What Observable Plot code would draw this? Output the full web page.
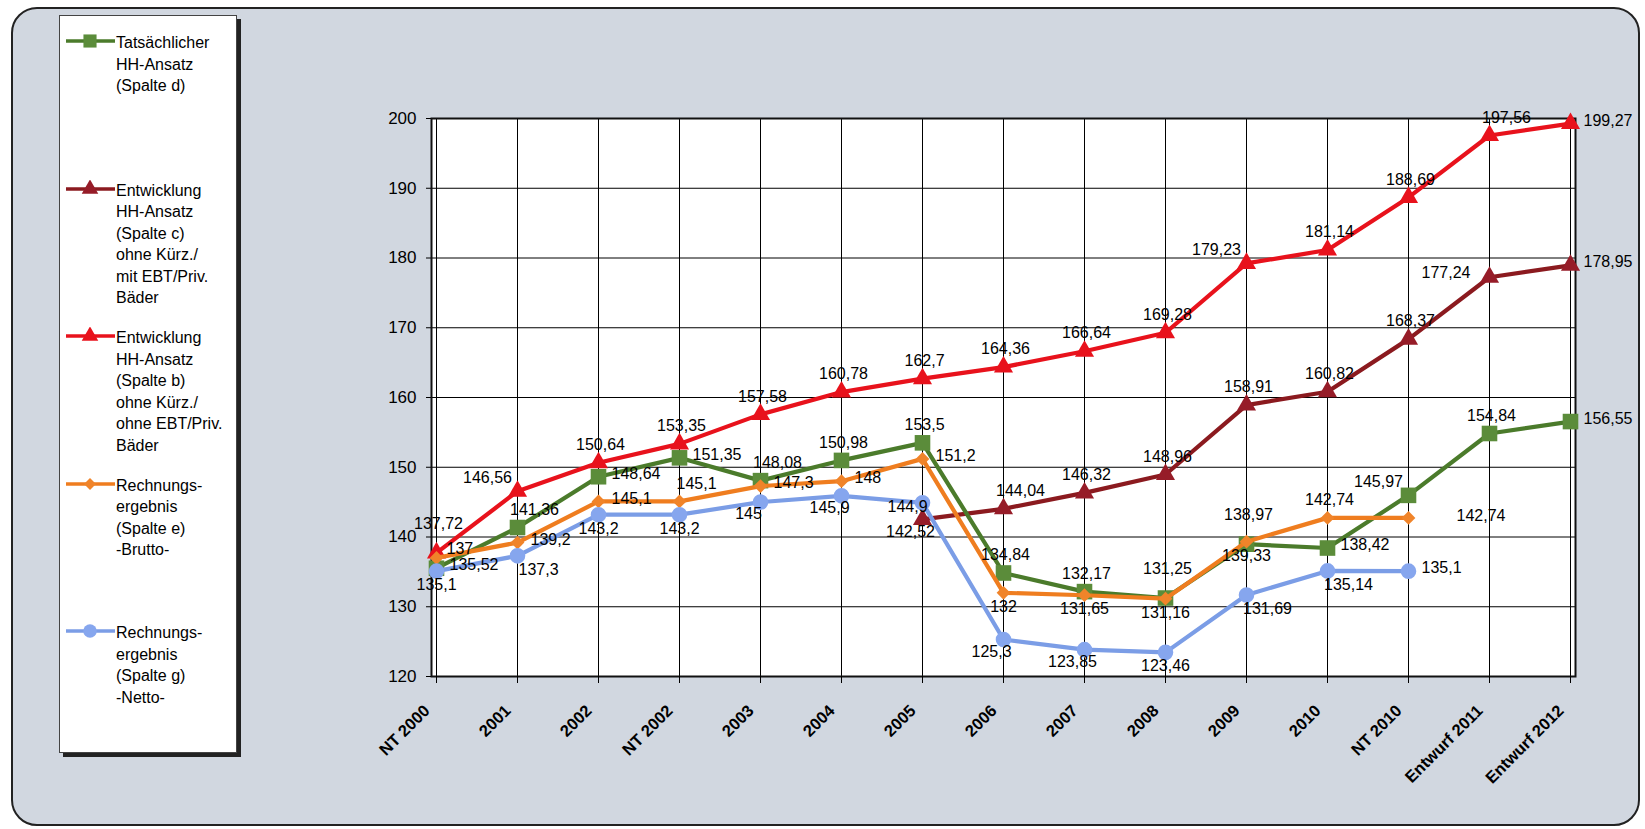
<!DOCTYPE html>
<html>
<head>
<meta charset="utf-8">
<script src="https://cdn.jsdelivr.net/npm/d3@7"></script>
<script src="https://cdn.jsdelivr.net/npm/@observablehq/plot@0.6"></script>
<style>
  html, body { margin: 0; padding: 0; background: #ffffff; }
  #page { position: relative; width: 1645px; height: 829px; overflow: hidden; font-family: "Liberation Sans", Arial, sans-serif; }
  #bg { position: absolute; left: 11px; top: 7px; width: 1629px; height: 819px; box-sizing: border-box;
        border: 2px solid #222; border-radius: 26px; background: #d1d7e0; }
  #chart { position: absolute; left: 0; top: 0; }
  #legend { position: absolute; left: 59px; top: 15px; width: 178px; height: 738px; box-sizing: border-box;
            background: #fff; border: 1px solid #444; box-shadow: 4px 4px 0 #222; }
  .entry { position: absolute; left: 0; width: 177px; }
  .entry svg { position: absolute; left: 5px; top: 0; }
  .entry .txt { position: absolute; left: 56px; top: 0; font-size: 16px; line-height: 21.5px; color: #000; white-space: nowrap; }
</style>
</head>
<body>
<div id="page">
  <div id="bg"></div>
  <div id="chart"></div>
  <div id="legend"></div>
</div>
<script>
// ---------- data ----------
const categories = ["NT 2000","2001","2002","NT 2002","2003","2004","2005","2006","2007","2008","2009","2010","NT 2010","Entwurf 2011","Entwurf 2012"];
const tatsaechlich = [135.52,141.36,148.64,151.35,148.08,150.98,153.5,134.84,132.17,131.25,138.97,138.42,145.97,154.84,156.55];
const entwicklungC = [null,null,null,null,null,null,142.52,144.04,146.32,148.96,158.91,160.82,168.37,177.24,178.95];
const entwicklungB = [137.72,146.56,150.64,153.35,157.58,160.78,162.7,164.36,166.64,169.28,179.23,181.14,188.69,197.56,199.27];
const brutto = [137,139.2,145.1,145.1,147.3,148,151.2,132,131.65,131.16,139.33,142.74,142.74,null,null];
const netto = [135.1,137.3,143.2,143.2,145,145.9,144.9,125.3,123.85,123.46,131.69,135.14,135.1,null,null];
const yTicks = [120,130,140,150,160,170,180,190,200];

const legendLabels = {
  d: ["Tatsächlicher","HH-Ansatz","(Spalte d)"],
  c: ["Entwicklung","HH-Ansatz","(Spalte c)","ohne Kürz./","mit EBT/Priv.","Bäder"],
  b: ["Entwicklung","HH-Ansatz","(Spalte b)","ohne Kürz./","ohne EBT/Priv.","Bäder"],
  e: ["Rechnungs-","ergebnis","(Spalte e)","-Brutto-"],
  g: ["Rechnungs-","ergebnis","(Spalte g)","-Netto-"]
};

// label placement keywords (style, kept apart from the values)
const placeB = ["high","aboveLeft","above","above","above","above","above","above","above","above","aboveLeft","above","above","aboveRight","right"];
const placeC = [null,null,null,null,null,null,"belowLeft","aboveRight","above","above","above","above","above","left","right"];
const placeD = ["right","aboveRight","right","right","aboveRight","above","above","above","above","high","high","right","aboveLeft","above","right"];
const placeE = ["rightHigh","right","right","aboveRight","right","right","right","below","below","below","below","above","farRight",null,null];
const placeG = ["below","belowRight","below","below","belowLeft","belowLeft","nearLeft","belowLeft","belowLeft","below","belowRight","belowRight","right",null,null];

const placements = {
  above:      {dx: 2,   dy: -18, textAnchor: "middle"},
  high:       {dx: 2,   dy: -29, textAnchor: "middle"},
  aboveLeft:  {dx: -30, dy: -13, textAnchor: "middle"},
  aboveRight: {dx: 17,  dy: -18, textAnchor: "middle"},
  right:      {dx: 13,  dy: -3,  textAnchor: "start"},
  rightHigh:  {dx: 10,  dy: -9,  textAnchor: "start"},
  farRight:   {dx: 48,  dy: -2,  textAnchor: "start"},
  left:       {dx: -19, dy: -4,  textAnchor: "end"},
  nearLeft:   {dx: -15, dy: 4,   textAnchor: "middle"},
  below:      {dx: 0,   dy: 14,  textAnchor: "middle"},
  belowLeft:  {dx: -12, dy: 12,  textAnchor: "middle"},
  belowRight: {dx: 21,  dy: 14,  textAnchor: "middle"}
};

const series = [
  {key: "b", values: entwicklungB, place: placeB, line: "#e8121c", fill: "#e8121c", symbol: "triangle", r: 7.1},
  {key: "c", values: entwicklungC, place: placeC, line: "#8b1a1f", fill: "#961c28", symbol: "triangle", r: 7.1},
  {key: "d", values: tatsaechlich, place: placeD, line: "#4b7b2b", fill: "#5b8c3a", symbol: "square", r: 8.8},
  {key: "e", values: brutto, place: placeE, line: "#ef7d1f", fill: "#f0842a", symbol: "diamond2", r: 6.2},
  {key: "g", values: netto, place: placeG, line: "#7b9de6", fill: "#86a6ee", symbol: "circle", r: 7.8}
];

const fmt = v => String(v).replace(".", ",");

// ---------- chart ----------
const marks = [
  Plot.frame({fill: "white"}),
  Plot.ruleY(yTicks, {stroke: "#000", strokeWidth: 1}),
  Plot.ruleX(categories, {x: d => d, stroke: "#000", strokeWidth: 1}),
  Plot.frame({stroke: "#111", strokeWidth: 2}),
  Plot.axisY({ticks: yTicks, tickSize: 5, tickPadding: 10, fontSize: 17, tickFormat: d => d}),
  Plot.axisX({tickSize: 7, tickFormat: () => ""}),
  Plot.text(categories, {x: d => d, frameAnchor: "bottom", rotate: -45, textAnchor: "end", lineAnchor: "top",
                         dx: -14, dy: 27, fontSize: 16.5, fontWeight: "bold", fill: "#000"})
];

for (const s of series) {
  const rows = categories.map((c, i) => ({cat: c, value: s.values[i], place: s.place[i]})).filter(d => d.value != null);
  marks.push(Plot.line(rows, {x: "cat", y: "value", stroke: s.line, strokeWidth: 4.2}));
  marks.push(Plot.dot(rows, {x: "cat", y: "value", symbol: () => s.symbol, r: s.r, fill: s.fill, stroke: "none"}));
}
for (const s of series) {
  const rows = categories.map((c, i) => ({cat: c, value: s.values[i], place: s.place[i]})).filter(d => d.value != null);
  for (const [name, p] of Object.entries(placements)) {
    const sub = rows.filter(d => d.place === name);
    if (!sub.length) continue;
    marks.push(Plot.text(sub, {x: "cat", y: "value", text: d => fmt(d.value), fontSize: 16, fill: "#000",
                               dx: p.dx, dy: p.dy, textAnchor: p.textAnchor}));
  }
}

const chart = Plot.plot({
  width: 1645,
  height: 829,
  marginTop: 118,
  marginBottom: 153,
  marginLeft: 431,
  marginRight: 70,
  x: {type: "point", domain: categories, padding: 0, label: null},
  y: {domain: [120, 200], label: null},
  style: {background: "transparent", color: "#000", fontFamily: '"Liberation Sans", Arial, sans-serif', overflow: "visible"},
  marks
});
document.getElementById("chart").appendChild(chart);

// ---------- legend ----------
const legendOrder = ["d", "c", "b", "e", "g"];
const legend = document.getElementById("legend");
const symMap = {triangle: d3.symbolTriangle, square: d3.symbolSquare, diamond2: d3.symbolDiamond2, circle: d3.symbolCircle};
legendOrder.forEach((k, i) => {
  const s = series.find(t => t.key === k);
  const centerY = 27 + i * 147.5; // relative to legend box
  const entry = document.createElement("div");
  entry.className = "entry";
  entry.style.top = (centerY - 10.75) + "px";
  const svg = d3.create("svg").attr("width", 52).attr("height", 22);
  svg.append("line").attr("x1", 1).attr("x2", 50).attr("y1", 9).attr("y2", 9)
     .attr("stroke", s.line).attr("stroke-width", 3.6);
  const sz = s.symbol === "square" ? 7.4 * 7.4 * Math.PI : s.r * s.r * Math.PI * 0.75;
  svg.append("path").attr("d", d3.symbol(symMap[s.symbol], sz)())
     .attr("transform", "translate(25,9)").attr("fill", s.fill);
  entry.appendChild(svg.node());
  const txt = document.createElement("div");
  txt.className = "txt";
  txt.innerHTML = legendLabels[k].join("<br>");
  entry.appendChild(txt);
  legend.appendChild(entry);
});
</script>
</body>
</html>
